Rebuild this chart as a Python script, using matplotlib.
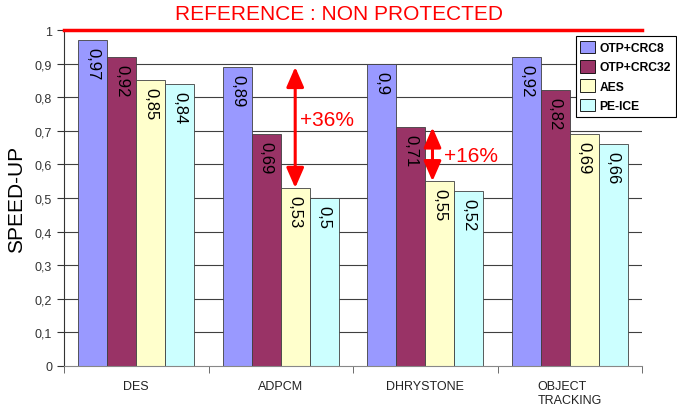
import matplotlib.pyplot as plt
import numpy as np

plt.rcParams['font.family'] = ['Liberation Sans', 'DejaVu Sans']

# données du graphique
categories = ['DES', 'ADPCM', 'DHRYSTONE', 'OBJECT\nTRACKING']
series = ['OTP+CRC8', 'OTP+CRC32', 'AES', 'PE-ICE']
otp_crc8 = [0.97, 0.89, 0.90, 0.92]
otp_crc32 = [0.92, 0.69, 0.71, 0.82]
aes = [0.85, 0.53, 0.55, 0.69]
pe_ice = [0.84, 0.50, 0.52, 0.66]
values = [otp_crc8, otp_crc32, aes, pe_ice]
colors = ['#9999FF', '#993366', '#FFFFCC', '#CCFFFF']
yticks = [0, 0.1, 0.2, 0.3, 0.4, 0.5, 0.6, 0.7, 0.8, 0.9, 1]

# flèches : (groupe, série haute, série basse, texte)
arrows = [(1, 0, 2, '+36%'), (2, 1, 2, '+16%')]

fig = plt.figure(figsize=(6.77, 4.06), dpi=100)
ax = fig.add_axes([64 / 677, 1 - 367 / 406, 578 / 677, 336 / 406])

x = np.arange(len(categories))
w = 0.2
offsets = [-0.3, -0.1, 0.1, 0.3]

for yv in yticks[1:-1]:
    ax.axhline(yv, color='#404040', lw=0.8, zorder=0)

bars = []
for i, s in enumerate(series):
    b = ax.bar(x + offsets[i], values[i], width=w, color=colors[i],
               edgecolor='#404040', linewidth=0.6, label=s, zorder=2)
    bars.append(b)
    for xi, v in zip(x + offsets[i], values[i]):
        txt = ('%g' % v).replace('.', ',')
        ax.annotate(txt, (xi, v), xytext=(0, -5), textcoords='offset points',
                    rotation=-90, ha='center', va='top', fontsize=12,
                    color='black', zorder=3)

# ligne de référence à 1
ax.axhline(1, color='red', lw=2.5, zorder=4, clip_on=False)

# décalages (position flèche, position texte) à la main
arrow_pos = {1: (0.0, 0.03, 0.025), 2: (-0.05, 0.08, -0.005)}
for g, hi, lo, label in arrows:
    dx, tx, ty = arrow_pos[g]
    xa = g + offsets[lo] + dx
    ax.annotate('', xy=(xa, values[lo][g]), xytext=(xa, values[hi][g]),
                arrowprops=dict(arrowstyle='<|-|>,head_length=0.55,head_width=0.24',
                                color='red', lw=2.2, mutation_scale=22,
                                shrinkA=0, shrinkB=0),
                zorder=5)
    ax.text(xa + tx, (values[lo][g] + values[hi][g]) / 2 + ty,
            label, color='red', fontsize=15, va='center', ha='left', zorder=5)

ax.set_xlim(-0.5, len(categories) - 0.5)
ax.set_ylim(0, 1)
ax.set_yticks(yticks)
ax.set_yticklabels([('%g' % t).replace('.', ',') for t in yticks],
                   fontsize=9, color='#333333')
ax.set_xticks(x)
ax.set_xticklabels(categories, fontsize=9, color='#222222', multialignment='left')
ax.tick_params(axis='x', length=0, pad=10)
ax.set_xticks(np.arange(-0.5, len(categories)), minor=True)
ax.tick_params(axis='x', which='minor', length=5, color='#555555')
ax.tick_params(axis='y', length=5, color='#333333')

for sp in ['top', 'right']:
    ax.spines[sp].set_visible(False)
ax.spines['left'].set_color('#333333')
ax.spines['bottom'].set_color('#888888')

ax.set_ylabel('SPEED-UP', fontsize=15, labelpad=6)

fig.text(339 / 677, 1 - 15 / 406, 'REFERENCE : NON PROTECTED', color='red',
         fontsize=15, ha='center', va='center')

leg = fig.legend(handles=bars, labels=series, loc='upper right',
                 bbox_to_anchor=(676 / 677, 1 - 37 / 406),
                 bbox_transform=fig.transFigure, borderaxespad=0,
                 prop={'weight': 'bold', 'size': 8.7}, fancybox=False,
                 handlelength=1.2, handleheight=1.2, handletextpad=0.4,
                 labelspacing=0.5, borderpad=0.4, framealpha=1)
leg.get_frame().set_edgecolor('black')
leg.get_frame().set_linewidth(0.8)
for h in leg.legend_handles:
    h.set_edgecolor('black')

fig.savefig('out.png', dpi=100)
